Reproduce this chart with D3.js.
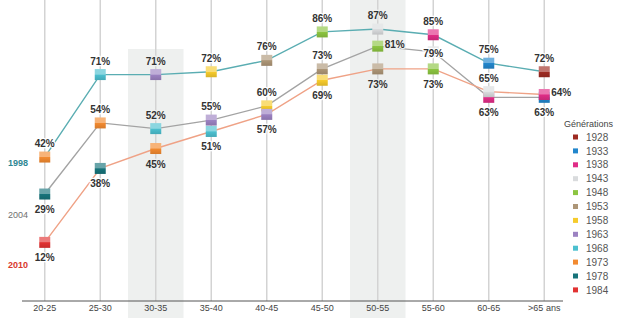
<!DOCTYPE html>
<html>
<head>
<meta charset="utf-8">
<script src="https://cdn.jsdelivr.net/npm/d3@7"></script>
<style>
  html, body { margin: 0; padding: 0; background: #fff; }
  svg { display: block; }
</style>
</head>
<body>
<svg id="chart" width="621" height="323"></svg>
<script>
// Age groups along the x axis
const categories = ["20-25", "25-30", "30-35", "35-40", "40-45", "45-50", "50-55", "55-60", "60-65", ">65 ans"];

// Survey years
const years = ["1998", "2004", "2010"];

// Share (%) per age group for each survey year
const values1998 = [42, 71, 71, 72, 76, 86, 87, 85, 75, 72];
const values2004 = [29, 54, 52, 55, 60, 73, 81, 79, 63, 63];
const values2010 = [12, 38, 45, 51, 57, 69, 73, 73, 65, 64];

// Birth generation of each point
const gens1998 = [1973, 1968, 1963, 1958, 1953, 1948, 1943, 1938, 1933, 1928];
const gens2004 = [1978, 1973, 1968, 1963, 1958, 1953, 1948, 1943, 1938, 1933];
const gens2010 = [1984, 1978, 1973, 1968, 1963, 1958, 1953, 1948, 1943, 1938];

// Where each value label sits: a = above, b = below, r = right, c = on the marker
const place1998 = ["a", "a", "a", "a", "a", "a", "a", "a", "a", "a"];
const place2004 = ["b", "a", "a", "a", "a", "a", "r", "c", "b", "b"];
const place2010 = ["b", "b", "b", "b", "b", "b", "b", "b", "a", "r"];

// Generations legend
const generations = [1928, 1933, 1938, 1943, 1948, 1953, 1958, 1963, 1968, 1973, 1978, 1984];
const genColors = ["#9e2b22", "#2286cc", "#e02d87", "#d9dbdd", "#8cc541", "#ad9677",
                   "#f6cb2c", "#9c82c2", "#4cc0cf", "#f28a30", "#17737a", "#e23232"];

// Highlighted age groups
const shaded = ["30-35", "50-55"];

const lineColors = { "1998": "#5aadb2", "2004": "#a3a3a3", "2010": "#efa286" };
const yearColors = { "1998": "#2e8793", "2004": "#707070", "2010": "#d8382c" };

const series = [
  { year: "1998", values: values1998, gens: gens1998, place: place1998 },
  { year: "2004", values: values2004, gens: gens2004, place: place2004 },
  { year: "2010", values: values2010, gens: gens2010, place: place2010 }
];

const svg = d3.select("#chart");
const genColor = d3.scaleOrdinal(generations, genColors);

const x = d3.scaleBand().domain(categories).range([17, 572]).padding(0);
const cx = c => x(c) + x.bandwidth() / 2;
const y = d3.scaleLinear().domain([0, 100]).range([276.5, -7.9]);
const axisY = 301;

// Gradients giving each square marker its two-tone look
const defs = svg.append("defs");
generations.forEach(g => {
  const base = d3.color(genColor(g));
  const light = d3.interpolateRgb(base, "#fff")(0.35);
  const dark = base.darker(0.35);
  const grad = defs.append("linearGradient")
    .attr("id", "g" + g).attr("x1", 0).attr("y1", 0).attr("x2", 0).attr("y2", 1);
  grad.append("stop").attr("offset", 0).attr("stop-color", light);
  grad.append("stop").attr("offset", 0.48).attr("stop-color", light);
  grad.append("stop").attr("offset", 0.52).attr("stop-color", base.formatHex());
  grad.append("stop").attr("offset", 1).attr("stop-color", dark.formatHex());
});

// Shaded columns
const bandTop = { "30-35": 49, "50-55": 0 };
svg.append("g").selectAll("rect").data(shaded).join("rect")
  .attr("x", d => x(d)).attr("y", d => bandTop[d])
  .attr("width", x.bandwidth()).attr("height", d => 318 - bandTop[d])
  .attr("fill", "#eef0ef");

// Vertical guides
svg.append("g").selectAll("line").data(categories).join("line")
  .attr("x1", cx).attr("x2", cx).attr("y1", 0).attr("y2", axisY)
  .attr("stroke", "#d3d3d3").attr("stroke-width", 1.5);

// X axis
const xAxis = svg.append("g").attr("transform", `translate(0,${axisY})`)
  .call(d3.axisBottom(x).tickSize(0).tickPadding(4));
xAxis.select(".domain").attr("d", "M22,0H563").attr("stroke", "#555").attr("stroke-width", 1);
xAxis.selectAll("text")
  .attr("font-family", "Liberation Sans, Arial, sans-serif")
  .attr("font-size", 9).attr("fill", "#444");

// Lines
const line = d3.line().x((d, i) => cx(categories[i])).y(d => y(d));
svg.append("g").selectAll("path").data(series).join("path")
  .attr("d", s => line(s.values))
  .attr("fill", "none")
  .attr("stroke", s => lineColors[s.year])
  .attr("stroke-width", 1.4);

// Markers
const ms = 11;
const pts = series.flatMap(s => s.values.map((v, i) => ({
  year: s.year, v, gen: s.gens[i], cat: categories[i], place: s.place[i]
})));
svg.append("g").selectAll("rect").data(pts).join("rect")
  .attr("x", d => cx(d.cat) - ms / 2).attr("y", d => y(d.v) - ms / 2)
  .attr("width", ms).attr("height", ms)
  .attr("fill", d => `url(#g${d.gen})`);

// Value labels
const inBand = c => shaded.includes(c);
svg.append("g").selectAll("text").data(pts).join("text")
  .attr("x", d => d.place === "r" ? cx(d.cat) + 7 : cx(d.cat))
  .attr("y", d => {
    const py = y(d.v);
    if (d.place === "a") return py - 10;
    if (d.place === "b") return py + 19;
    if (d.place === "r") return py + 2;
    return py + 5;
  })
  .attr("text-anchor", d => d.place === "r" ? "start" : "middle")
  .attr("font-family", "Liberation Sans, Arial, sans-serif")
  .attr("font-weight", "bold").attr("font-size", 10)
  .attr("fill", "#333")
  .attr("stroke", d => inBand(d.cat) ? "#eef0ef" : "#fff")
  .attr("stroke-width", 2.5).attr("paint-order", "stroke")
  .text(d => d.v + "%");

// Survey year labels on the left
const yearLabelY = { "1998": 166, "2004": 218, "2010": 268 };
svg.append("g").selectAll("text").data(years).join("text")
  .attr("x", 8).attr("y", d => yearLabelY[d])
  .attr("font-family", "Liberation Sans, Arial, sans-serif")
  .attr("font-size", 9)
  .attr("font-weight", d => d === "2004" ? "normal" : "bold")
  .attr("fill", d => yearColors[d])
  .text(d => d);

// Legend
const legend = svg.append("g");
legend.append("text").attr("x", 564).attr("y", 127)
  .attr("font-family", "Liberation Sans, Arial, sans-serif")
  .attr("font-size", 9).attr("fill", "#444").text("Générations");
const item = legend.selectAll("g.item").data(generations).join("g")
  .attr("class", "item")
  .attr("transform", (d, i) => `translate(0,${137 + i * 13.9})`);
item.append("rect").attr("x", 573).attr("y", -2.5).attr("width", 5).attr("height", 5)
  .attr("fill", d => genColor(d));
item.append("text").attr("x", 586).attr("y", 3.6)
  .attr("font-family", "Liberation Sans, Arial, sans-serif")
  .attr("font-size", 10).attr("fill", "#555").text(d => d);
</script>
</body>
</html>
